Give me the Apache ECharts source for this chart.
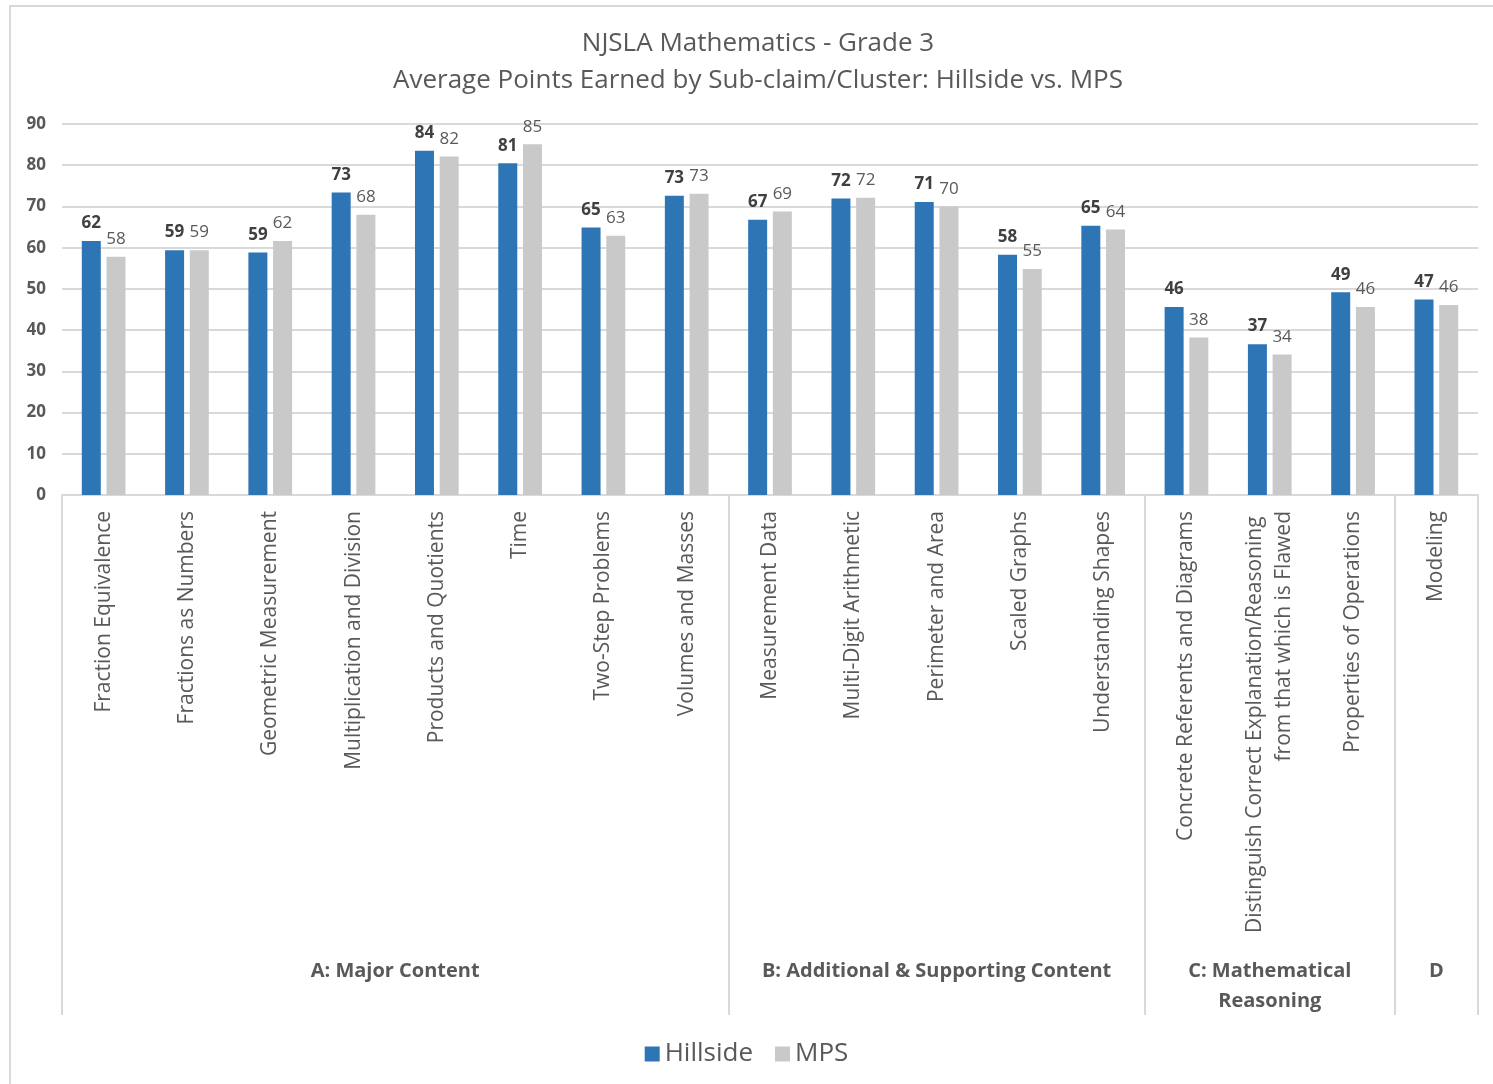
<!DOCTYPE html>
<html>
<head>
<meta charset="utf-8">
<title>NJSLA Mathematics - Grade 3</title>
<script src="https://cdn.jsdelivr.net/npm/echarts@6/dist/echarts.min.js"></script>
<style>
    html, body { margin: 0; padding: 0; background: #fff; }
    #chart { width: 1493px; height: 1084px; }
</style>
</head>
<body>
<div id="chart"></div>
<script>
var categories = [
    'Fraction Equivalence', 'Fractions as Numbers', 'Geometric Measurement',
    'Multiplication and Division', 'Products and Quotients', 'Time',
    'Two-Step Problems', 'Volumes and Masses',
    'Measurement Data', 'Multi-Digit Arithmetic', 'Perimeter and Area',
    'Scaled Graphs', 'Understanding Shapes',
    'Concrete Referents and Diagrams',
    'Distinguish Correct Explanation/Reasoning from that which is Flawed',
    'Properties of Operations',
    'Modeling'
];
var hillside = [61.6, 59.4, 58.8, 73.4, 83.5, 80.5, 64.9, 72.6, 66.8, 71.9, 71.1, 58.3, 65.3, 45.6, 36.6, 49.2, 47.4];
var mps      = [57.8, 59.4, 61.6, 68.0, 82.1, 85.1, 62.9, 73.1, 68.8, 72.1, 70.0, 54.8, 64.4, 38.2, 34.1, 45.6, 46.1];

var groupNames = ['A: Major Content', 'B: Additional & Supporting Content', 'C: Mathematical\nReasoning', 'D'];
var groupSizes = [8, 5, 3, 1];

var yMin = 0, yMax = 90, yStep = 10;

var FONT = '"Open Sans", "Noto Sans", sans-serif';

// group start indexes and centres (in band units)
var groupStarts = [], groupCentres = [];
var acc = 0;
for (var i = 0; i < groupSizes.length; i++) {
    groupStarts.push(acc);
    groupCentres.push(acc + groupSizes[i] / 2);
    acc += groupSizes[i];
}

var chart = echarts.init(document.getElementById('chart'));

var titleStyle = {
    fontFamily: FONT,
    fontSize: 26,
    fontWeight: 'normal',
    color: '#595959'
};

var option = {
    backgroundColor: '#fff',
    animation: false,
    textStyle: { fontFamily: FONT },
    title: [{
        text: 'NJSLA Mathematics - Grade 3',
        left: 753,
        textAlign: 'center',
        top: 26,
        textStyle: titleStyle
    }, {
        text: 'Average Points Earned by Sub-claim/Cluster: Hillside vs. MPS',
        left: 753,
        textAlign: 'center',
        top: 63,
        textStyle: titleStyle
    }],
    legend: {
        data: ['Hillside', 'MPS'],
        top: 1036,
        left: 'center',
        icon: 'rect',
        itemWidth: 15,
        itemHeight: 15,
        itemGap: 22,
        textStyle: { fontFamily: FONT, fontSize: 26, color: '#595959' }
    },
    grid: { left: 62, right: 15, top: 124, bottom: 589 },
    graphic: [{
        type: 'rect',
        silent: true,
        shape: { x: 10, y: 6, width: 1600, height: 1200 },
        style: { fill: 'none', stroke: '#d9d9d9', lineWidth: 2 }
    }],
    xAxis: [{
        type: 'category',
        data: categories,
        axisLine: { lineStyle: { color: '#d9d9d9', width: 2 } },
        axisTick: {
            show: true,
            length: 520,
            interval: function (index) { return groupStarts.indexOf(index) >= 0; },
            lineStyle: { color: '#d9d9d9', width: 2 }
        },
        axisLabel: {
            interval: 0,
            rotate: 90,
            margin: 16,
            fontFamily: FONT,
            fontSize: 21,
            color: '#595959',
            width: 450,
            overflow: 'break',
            lineHeight: 29
        },
        splitLine: { show: false }
    }, {
        // second level: sub-claim groups
        type: 'value',
        position: 'bottom',
        min: 0,
        max: categories.length,
        interval: 0.5,
        offset: 453,
        axisLine: { show: false },
        axisTick: { show: false },
        splitLine: { show: false },
        axisLabel: {
            margin: 8,
            fontFamily: FONT,
            fontSize: 20,
            fontWeight: 'bold',
            color: '#595959',
            lineHeight: 30,
            showMinLabel: true,
            showMaxLabel: true,
            formatter: function (v) {
                var k = groupCentres.indexOf(v);
                return k >= 0 ? groupNames[k] : '';
            }
        }
    }],
    yAxis: {
        type: 'value',
        min: yMin,
        max: yMax,
        interval: yStep,
        axisLine: { show: false },
        axisTick: { show: false },
        axisLabel: {
            margin: 16,
            fontFamily: FONT,
            fontSize: 17,
            fontWeight: 'bold',
            color: '#595959'
        },
        splitLine: { lineStyle: { color: '#d9d9d9', width: 2 } }
    },
    series: [{
        name: 'Hillside',
        type: 'bar',
        data: hillside,
        barWidth: 19,
        barGap: '30%',
        itemStyle: { color: '#2E75B6' },
        label: {
            show: true,
            position: 'top',
            distance: 9,
            fontFamily: FONT,
            fontSize: 17,
            fontWeight: 'bold',
            color: '#404040',
            formatter: function (p) { return Math.round(p.value); }
        }
    }, {
        name: 'MPS',
        type: 'bar',
        data: mps,
        barWidth: 19,
        itemStyle: { color: '#C9C9C9' },
        label: {
            show: true,
            position: 'top',
            distance: 9,
            fontFamily: FONT,
            fontSize: 17,
            color: '#595959',
            formatter: function (p) { return Math.round(p.value); }
        }
    }]
};

chart.setOption(option);
</script>
</body>
</html>
